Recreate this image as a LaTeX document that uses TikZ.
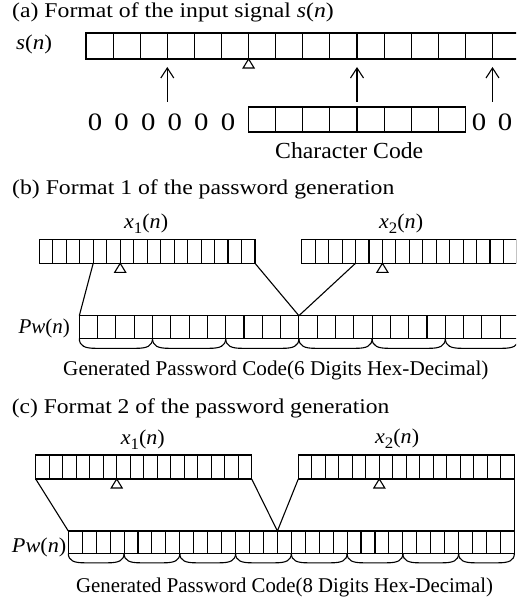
\documentclass[tikz,border=0pt]{standalone}
\usepackage{fontspec}
\setmainfont{Liberation Serif}
\usepackage{graphicx}
\usetikzlibrary{arrows.meta}
\tikzset{
  cellline/.style={line width=1.1pt},
  conn/.style={line width=1.1pt},
  upar/.style={line width=1.1pt,-{Straight Barb[length=10pt,width=13pt,line width=1.1pt]}},
  txt/.style={inner sep=0pt,anchor=base west,font=\fontsize{21}{24}\selectfont},
  big/.style={inner sep=0pt,anchor=base,font=\fontsize{25}{28}\selectfont},
}
\newcommand\cellrow[5]{% x0, ytop, ybot, n, w
  \draw[cellline] ({#1},{#2}) rectangle ({#1+#4*#5},{#3});
  \foreach \k in {1,...,#4}{\draw[cellline] ({#1+\k*#5},{#2}) -- ({#1+\k*#5},{#3});}
}
\newcommand\marktri[2]{% apex x, apex y
  \draw[cellline,line join=miter] ({#1},{#2}) -- ({#1-5.5},{#2+9}) -- ({#1+5.5},{#2+9}) -- cycle;
}
\newcommand\grpbrace[4]{% xl, xr, ytop, depth
  \draw[cellline] ({#1},{#3}) .. controls ({#1},{#3+0.8*#4}) and ({#1+6},{#3+#4}) .. ({#1+16},{#3+#4})
     -- ({#2-16},{#3+#4}) .. controls ({#2-6},{#3+#4}) and ({#2},{#3+0.8*#4}) .. ({#2},{#3});
}
\newcommand\sx[2]{\scalebox{#1}[1]{#2}}
\newcommand\xsub[1]{\textit{x}\raisebox{-5pt}{\fontsize{16}{16}\selectfont #1}(\textit{n})}
\begin{document}
\begin{tikzpicture}[x=1pt,y=-1pt]
\useasboundingbox (0,0) rectangle (516,604);
\clip (0,0) rectangle (516,604);
\fill[white] (0,0) rectangle (516,604);
% ---------------- (a)
\node[txt] (ta) at (12,17.3) {\sx{1.13}{(a) Format of the input signal \textit{s}(\textit{n})}};
\node[txt] (sn) at (16,50) {\sx{1.1}{\textit{s}(\textit{n})}};
\cellrow{86}{33}{59}{16}{27.1}
\marktri{248.6}{59}
\cellrow{248.6}{107}{132}{8}{27.1}
\foreach \i in {0,...,5}{\node[big] (z\i) at ({95+26.6*\i},130.5) {\sx{1.15}{0}};}
\node[big] (z6) at (479,130.5) {\sx{1.15}{0}};
\node[big] (z7) at (505,130.5) {\sx{1.15}{0}};
\node[txt,font=\fontsize{23}{26}\selectfont] (cc) at (275,158.7) {\sx{1.03}{Character Code}};
\foreach \i/\x in {1/167.3,2/357,3/492.5}{
  \coordinate (arS\i) at (\x,102);
  \coordinate (arE\i) at (\x,67);
  \draw[upar] (arS\i) -- (arE\i);
}
% ---------------- (b)
\node[txt] (tb) at (12,194.3) {\sx{1.13}{(b) Format 1 of the password generation}};
\node[txt] (bx1) at (124,228) {\sx{1.05}{\xsub{1}}};
\node[txt] (bx2) at (379,228) {\sx{1.05}{\xsub{2}}};
\node[txt] (bpw) at (18.3,333) {\sx{1.0}{\textit{Pw}(\textit{n})}};
\cellrow{39.3}{239.3}{263.3}{16}{13.48}
\marktri{120.2}{263.3}
\cellrow{301.7}{239.3}{263.3}{16}{13.45}
\marktri{382.4}{263.3}
\cellrow{79.3}{315.7}{338.3}{24}{18.3}
\foreach \g in {0,...,5}{\grpbrace{79.3+73.2*\g}{79.3+73.2*(\g+1)}{338.3}{10}}
\coordinate (b1a) at (93.2,263.3);
\coordinate (b1b) at (255,263.3);
\coordinate (b2a) at (355.5,263.3);
\coordinate (bpl) at (79.3,315.7);
\coordinate (bap) at (298.9,315.7);
\draw[conn] (b1a) -- (bpl);
\draw[conn] (b1b) -- (bap) -- (b2a);
\node[txt] (bgen) at (63,375.5) {\sx{1.01}{Generated Password Code(6 Digits Hex-Decimal)}};
% ---------------- (c)
\node[txt] (tc) at (11.7,413) {\sx{1.12}{(c) Format 2 of the password generation}};
\node[txt] (cx1) at (120.7,444) {\sx{1.05}{\xsub{1}}};
\node[txt] (cx2) at (375,443.5) {\sx{1.05}{\xsub{2}}};
\node[txt] (cpw) at (11.7,552) {\sx{1.06}{\textit{Pw}(\textit{n})}};
\cellrow{35.7}{455}{479}{16}{13.5}
\marktri{116.7}{479}
\cellrow{298.3}{455}{479}{16}{13.5}
\marktri{379.3}{479}
\cellrow{68.3}{531}{553.3}{32}{13.94}
\foreach \g in {0,...,7}{\grpbrace{68.3+55.76*\g}{68.3+55.76*(\g+1)}{553.3}{9.5}}
\coordinate (c1a) at (35.7,479);
\coordinate (c1b) at (251.7,479);
\coordinate (c2a) at (298.3,479);
\coordinate (c2b) at (514.3,479);
\coordinate (cpl) at (68.3,531);
\coordinate (cap) at (277.4,531);
\coordinate (cpr) at (514.3,531);
\draw[conn] (c1a) -- (cpl);
\draw[conn] (c1b) -- (cap) -- (c2a);
\draw[conn] (c2b) -- (cpr);
\node[txt] (cgen) at (76,592) {\sx{0.99}{Generated Password Code(8 Digits Hex-Decimal)}};
\end{tikzpicture}
\end{document}
